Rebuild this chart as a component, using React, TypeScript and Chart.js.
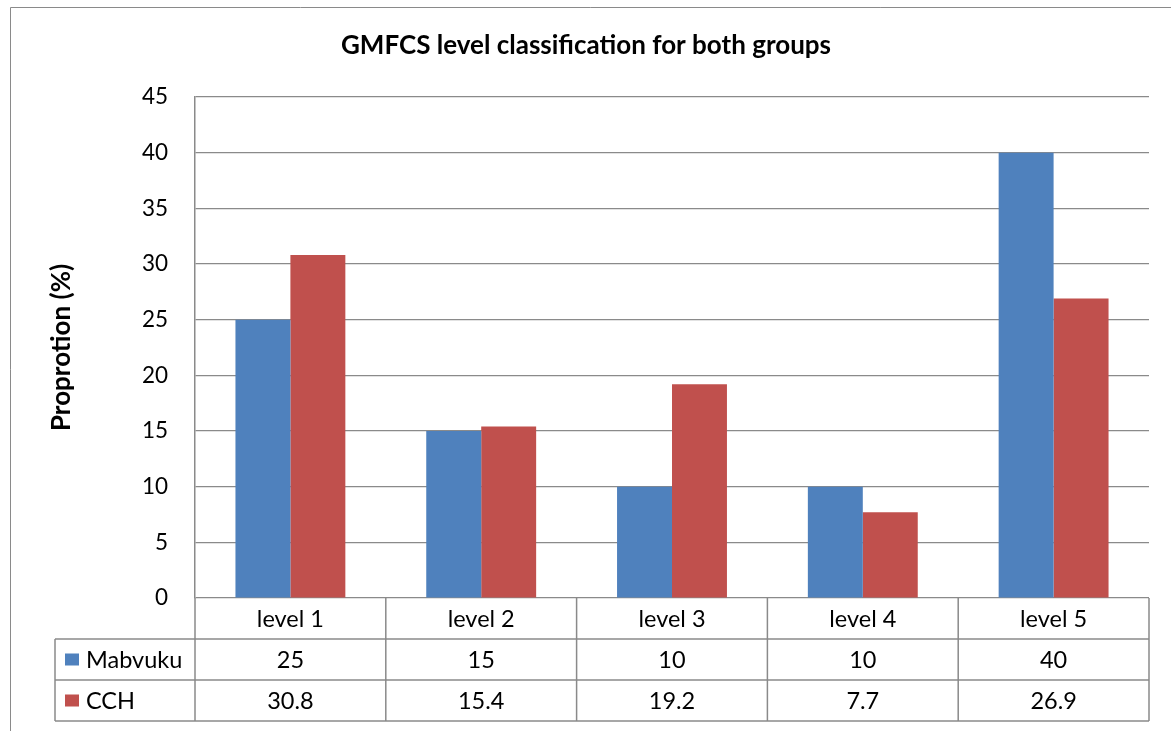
import React, { useEffect, useRef } from "react";
import { Chart, registerables } from "chart.js";

Chart.register(...registerables);

const categories = ["level 1", "level 2", "level 3", "level 4", "level 5"];
const seriesNames = ["Mabvuku", "CCH"];
const mabvuku = [25, 15, 10, 10, 40];
const cch = [30.8, 15.4, 19.2, 7.7, 26.9];
const seriesColors = ["#4F81BD", "#C0504D"];
const chartTitle = "GMFCS level classification for both groups";
const yTitle = "Proprotion (%)";

const FONT = "Lato, 'Open Sans', sans-serif";
const LINE = "#8a8a8a";

const tablePlugin = {
  id: "dataTable",
  afterDraw(chart: any) {
    const ctx = chart.ctx as CanvasRenderingContext2D;
    const area = chart.chartArea;
    const xs = chart.scales.x;
    const n = categories.length;
    const catW = (area.right - area.left) / n;
    const top = area.bottom;
    const rowH = 41;
    const legendLeft = 55;
    const rows = [mabvuku, cch];
    ctx.save();
    // outer frame
    ctx.strokeStyle = LINE;
    ctx.lineWidth = 1;
    ctx.beginPath();
    ctx.moveTo(10.5, 731);
    ctx.lineTo(10.5, 7.5);
    ctx.lineTo(1171, 7.5);
    ctx.stroke();

    // title
    ctx.fillStyle = "#000";
    ctx.font = `bold 26px ${FONT}`;
    ctx.textAlign = "center";
    ctx.textBaseline = "middle";
    ctx.fillText(chartTitle, 586, 46);

    ctx.strokeStyle = LINE;
    ctx.lineWidth = 1.5;
    ctx.beginPath();
    ctx.moveTo(legendLeft, top + rowH);
    ctx.lineTo(area.right, top + rowH);
    ctx.moveTo(legendLeft, top + 2 * rowH);
    ctx.lineTo(area.right, top + 2 * rowH);
    ctx.moveTo(legendLeft, top + 3 * rowH);
    ctx.lineTo(area.right, top + 3 * rowH);
    for (let i = 0; i <= n; i++) {
      const x = area.left + i * catW;
      ctx.moveTo(x, top);
      ctx.lineTo(x, top + 3 * rowH);
    }
    ctx.moveTo(legendLeft, top + rowH);
    ctx.lineTo(legendLeft, top + 3 * rowH);
    ctx.stroke();

    ctx.fillStyle = "#000";
    ctx.font = `23.5px ${FONT}`;
    ctx.textAlign = "center";
    ctx.textBaseline = "middle";
    categories.forEach((c, i) => {
      const cx = xs.getPixelForValue(i);
      ctx.fillText(c, cx, top + rowH / 2 + 1);
      rows.forEach((r, j) => {
        ctx.fillText(String(r[i]), cx, top + rowH * (j + 1) + rowH / 2 + 1);
      });
    });
    ctx.textAlign = "left";
    seriesNames.forEach((s, j) => {
      const cy = top + rowH * (j + 1) + rowH / 2;
      ctx.fillStyle = seriesColors[j];
      ctx.fillRect(65, cy - 6, 14, 12);
      ctx.fillStyle = "#000";
      ctx.fillText(s, 86, cy + 1);
    });
    ctx.restore();
  },
};

export default function App() {
  const ref = useRef<HTMLCanvasElement | null>(null);
  useEffect(() => {
    if (!ref.current) return;
    const chart = new Chart(ref.current, {
      type: "bar",
      data: {
        labels: categories,
        datasets: [
          { label: seriesNames[0], data: mabvuku, backgroundColor: seriesColors[0] },
          { label: seriesNames[1], data: cch, backgroundColor: seriesColors[1] },
        ],
      },
      options: {
        responsive: false,
        animation: false,
        layout: { padding: { left: 0, right: 22, top: 97, bottom: 133 } },
        datasets: { bar: { categoryPercentage: 0.576, barPercentage: 1 } },
        plugins: {
          legend: { display: false },
          tooltip: { enabled: false },
          title: { display: false },
        },
        scales: {
          x: { display: false },
          y: {
            min: 0,
            max: 45,
            afterFit: (s: any) => {
              s.width = 195;
            },
            ticks: {
              stepSize: 5,
              padding: 27,
              color: "#000",
              font: { family: FONT, size: 22.5 },
            },
            grid: { color: LINE, lineWidth: 1.2, drawTicks: false },
            border: { display: true, color: LINE, width: 1.5 },
            title: {
              display: true,
              text: yTitle,
              color: "#000",
              font: { family: FONT, size: 26, weight: "bold" },
              padding: { top: 46 },
            },
          },
        },
      },
      plugins: [tablePlugin],
    });
    return () => chart.destroy();
  }, []);
  return (
    <div style={{ position: "absolute", left: 0, top: 0, width: 1171, height: 731, background: "#fff" }}>
      <canvas ref={ref} width={1171} height={731} style={{ display: "block" }} />
    </div>
  );
}
